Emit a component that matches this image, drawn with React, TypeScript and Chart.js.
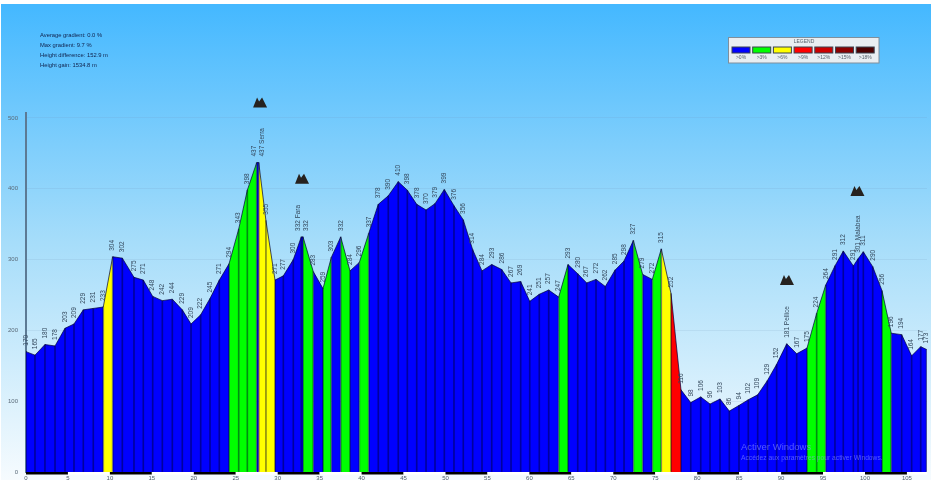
import React, { useEffect, useRef } from "react";
import { Chart, registerables } from "chart.js";

Chart.register(...registerables);

const km = [
  0, 1.07, 2.26, 3.46, 4.65, 5.72, 6.83, 8.02, 9.21, 10.33,
  11.48, 12.87, 13.98, 15.1, 16.25, 17.44, 18.63, 19.67, 20.82, 21.93,
  23.04, 24.2, 25.35, 26.38, 27.5, 27.74, 28.6, 29.68, 30.67, 31.86,
  32.81, 33.02, 34.24, 35.4, 36.39, 37.51, 38.62, 39.73, 40.85, 41.99,
  43.18, 44.37, 45.45, 46.57, 47.68, 48.75, 49.86, 51.01, 52.12, 53.24,
  54.35, 55.51, 56.7, 57.81, 58.96, 60.04, 61.18, 62.3, 63.49, 64.6,
  65.76, 66.83, 67.94, 69.05, 70.2, 71.28, 72.39, 73.5, 74.65, 75.72,
  76.88, 78.07, 79.23, 80.42, 81.53, 82.72, 83.83, 84.98, 86.09, 87.21,
  88.36, 89.47, 90.67, 91.86, 93.09, 94.24, 95.32, 96.42, 97.41, 98.61,
  99.17, 99.8, 100.92, 102.03, 103.13, 104.37, 105.56, 106.64, 107.35,
];

const elevation = [
  170, 165, 180, 178, 203, 209, 229, 231, 233, 304,
  302, 275, 271, 248, 242, 244, 229, 209, 222, 245,
  271, 294, 343, 398, 437, 437, 355, 271, 277, 300,
  332, 332, 283, 259, 303, 332, 284, 296, 337, 378,
  390, 410, 398, 378, 370, 379, 399, 376, 356, 314,
  284, 293, 286, 267, 269, 241, 251, 257, 247, 293,
  280, 267, 272, 262, 285, 298, 327, 279, 272, 315,
  252, 116, 98, 106, 96, 103, 86, 94, 102, 109,
  129, 152, 181, 167, 175, 224, 264, 291, 312, 291,
  301, 311, 290, 256, 196, 194, 164, 177, 173,
];

// Gradient class of the stretch that starts at each point (index into gradeColors).
const grade = [
  0, 0, 0, 0, 0, 0, 0, 0, 2, 0,
  0, 0, 0, 0, 0, 0, 0, 0, 0, 0,
  0, 1, 1, 1, 0, 2, 2, 0, 0, 0,
  0, 1, 0, 1, 0, 1, 0, 1, 0, 0,
  0, 0, 0, 0, 0, 0, 0, 0, 0, 0,
  0, 0, 0, 0, 0, 0, 0, 0, 1, 0,
  0, 0, 0, 0, 0, 0, 1, 0, 1, 2,
  3, 0, 0, 0, 0, 0, 0, 0, 0, 0,
  0, 0, 0, 0, 1, 1, 0, 0, 0, 0,
  0, 0, 0, 1, 0, 0, 0, 0, 0,
];

const gradeColors = ["#0000ff", "#00ff00", "#ffff00", "#ff0000", "#cc0000", "#8b0000", "#4d0000"];
const gradeLabels = [">0%", ">3%", ">6%", ">9%", ">12%", ">15%", ">18%"];
const yTicks = [0, 100, 200, 300, 400, 500];

const peakPoints = [25, 30, 82, 90];
const peakNames = ["Serra", "Fara", "Pellice", "Malabea"];
const peakIconKm = [27.9, 32.9, 90.7, 99.1];
const peakIconAltitude = [522, 414, 271, 397];

const stats = [
  "Average gradient: 0.0 %",
  "Max gradient: 9.7 %",
  "Height difference: 152.9 m",
  "Height gain: 1534.8 m",
];

const FONT = '"Liberation Sans", Arial, sans-serif';
const X_MAX = 107.39;
const Y_MAX = 507;
const PLOT_BOTTOM = 472;

const layoutPlugin = {
  id: "plotBottom",
  afterLayout(chart: any) {
    const { x: xs, y: ys } = chart.scales;
    const area = chart.chartArea;
    area.bottom = PLOT_BOTTOM;
    area.height = PLOT_BOTTOM - area.top;
    ys.bottom = PLOT_BOTTOM;
    ys.height = PLOT_BOTTOM - ys.top;
    ys.configure();
    xs.top = PLOT_BOTTOM;
    xs.bottom = chart.height;
    xs.height = chart.height - PLOT_BOTTOM;
    xs.configure();
  },
};

const backgroundPlugin = {
  id: "sky",
  beforeDraw(chart: any) {
    const { ctx } = chart;
    ctx.save();
    ctx.fillStyle = "#ffffff";
    ctx.fillRect(0, 0, chart.width, chart.height);
    const g = ctx.createLinearGradient(0, 4, 0, 480);
    g.addColorStop(0, "#44b8ff");
    g.addColorStop(0.5, "#a6ddfa");
    g.addColorStop(1, "#f6fbfe");
    ctx.fillStyle = g;
    ctx.fillRect(1, 4, 930, 476);
    ctx.restore();
  },
};

const overlayPlugin = {
  id: "overlay",
  afterDatasetsDraw(chart: any) {
    const { ctx } = chart;
    const xs = chart.scales.x;
    const ys = chart.scales.y;
    ctx.save();

    // distance ruler below the profile
    for (let k = 0; k * 5 < X_MAX; k++) {
      const a = xs.getPixelForValue(k * 5);
      const b = xs.getPixelForValue(Math.min((k + 1) * 5, X_MAX));
      ctx.fillStyle = k % 2 === 0 ? "#000000" : "#ffffff";
      ctx.fillRect(a, ys.bottom, b - a, 2.5);
    }

    // spot heights
    ctx.fillStyle = "#33475b";
    ctx.font = `6.5px ${FONT}`;
    ctx.textAlign = "left";
    ctx.textBaseline = "middle";
    km.forEach((d, i) => {
      const px = xs.getPixelForValue(d);
      const py = ys.getPixelForValue(elevation[i]);
      let shift = 0;
      if (i + 1 < km.length && xs.getPixelForValue(km[i + 1]) - px < 4) shift = -3;
      if (i > 0 && px - xs.getPixelForValue(km[i - 1]) < 4) shift = 3;
      const named = peakPoints.indexOf(i);
      const text = named >= 0 ? `${elevation[i]} ${peakNames[named]}` : `${elevation[i]}`;
      ctx.save();
      ctx.translate(px + shift, py - 6);
      ctx.rotate(-Math.PI / 2);
      ctx.fillText(text, 0, 0);
      ctx.restore();
    });

    // summit markers
    ctx.fillStyle = "#26221f";
    peakIconKm.forEach((d, i) => {
      const px = xs.getPixelForValue(d);
      const py = ys.getPixelForValue(peakIconAltitude[i]);
      ctx.beginPath();
      ctx.moveTo(px - 7, py + 5);
      ctx.lineTo(px - 3, py - 5);
      ctx.lineTo(px - 1, py - 1);
      ctx.lineTo(px + 2, py - 5);
      ctx.lineTo(px + 7, py + 5);
      ctx.closePath();
      ctx.fill();
    });

    // statistics block
    ctx.fillStyle = "#10204a";
    ctx.font = `5.8px ${FONT}`;
    ctx.textAlign = "left";
    stats.forEach((t, i) => ctx.fillText(t, 40, 35.5 + i * 9.9));

    // legend box
    ctx.fillStyle = "#e9eef2";
    ctx.strokeStyle = "#7f8f9c";
    ctx.lineWidth = 1;
    ctx.fillRect(728.5, 37.5, 150.5, 25.5);
    ctx.strokeRect(728.5, 37.5, 150.5, 25.5);
    ctx.fillStyle = "#555f68";
    ctx.font = `5px ${FONT}`;
    ctx.textAlign = "center";
    ctx.fillText("LEGEND", 804, 41.5);
    gradeColors.forEach((c, i) => {
      const x = 732 + i * 20.7;
      ctx.fillStyle = c;
      ctx.strokeStyle = "#3a4450";
      ctx.fillRect(x, 47, 18, 6);
      ctx.strokeRect(x, 47, 18, 6);
      ctx.fillStyle = "#555f68";
      ctx.fillText(gradeLabels[i], x + 9, 58);
    });

    // screen-capture watermark present in the source image
    ctx.textAlign = "left";
    ctx.fillStyle = "rgba(150,160,255,0.55)";
    ctx.font = `9.5px ${FONT}`;
    ctx.fillText("Activer Windows", 741, 447);
    ctx.font = `6.7px ${FONT}`;
    ctx.fillText("Accédez aux paramètres pour activer Windows.", 741, 458);
    ctx.restore();
  },
};

export default function App() {
  const ref = useRef<HTMLCanvasElement | null>(null);

  useEffect(() => {
    document.body.style.margin = "0";
    const points = km.map((d, i) => ({ x: d, y: elevation[i] }));
    const chart = new Chart(ref.current as HTMLCanvasElement, {
      type: "line",
      data: {
        datasets: [
          {
            type: "bar",
            data: points,
            barThickness: 1,
            backgroundColor: "rgba(0,0,40,0.45)",
            order: 0,
          } as any,
          {
            type: "line",
            data: points,
            tension: 0,
            pointRadius: 0,
            borderColor: "rgba(0,0,60,0.7)",
            borderWidth: 1,
            backgroundColor: gradeColors[0],
            fill: "origin",
            order: 1,
            segment: {
              backgroundColor: (c: any) => gradeColors[grade[c.p0DataIndex]],
            },
          } as any,
        ],
      },
      options: {
        animation: false,
        responsive: false,
        devicePixelRatio: 1,
        layout: { autoPadding: false, padding: { left: 0, right: 11, top: 113, bottom: 0 } },
        plugins: { legend: { display: false }, tooltip: { enabled: false } },
        scales: {
          x: {
            type: "linear",
            offset: false,
            min: 0,
            max: X_MAX,
            grid: { display: false, offset: false, drawTicks: false },
            border: { display: false },
            ticks: {
              stepSize: 5,
              includeBounds: false,
              autoSkip: false,
              maxRotation: 0,
              padding: 2.5,
              color: "#4a5a68",
              font: { size: 6, family: FONT },
            },
          },
          y: {
            min: 0,
            max: Y_MAX,
            afterFit: (s: any) => { s.width = 26; },
            afterBuildTicks: (s: any) => { s.ticks = yTicks.map((value) => ({ value })); },
            grid: { color: "rgba(110,140,175,0.13)", drawTicks: false },
            border: { display: true, color: "#5c7a94", width: 2 },
            ticks: {
              padding: 8,
              color: "#5a6a78",
              font: { size: 6, family: FONT },
            },
          },
        },
      } as any,
      plugins: [layoutPlugin, backgroundPlugin, overlayPlugin],
    } as any);
    return () => chart.destroy();
  }, []);

  return <canvas ref={ref} width={938} height={480} style={{ display: "block" }} />;
}
